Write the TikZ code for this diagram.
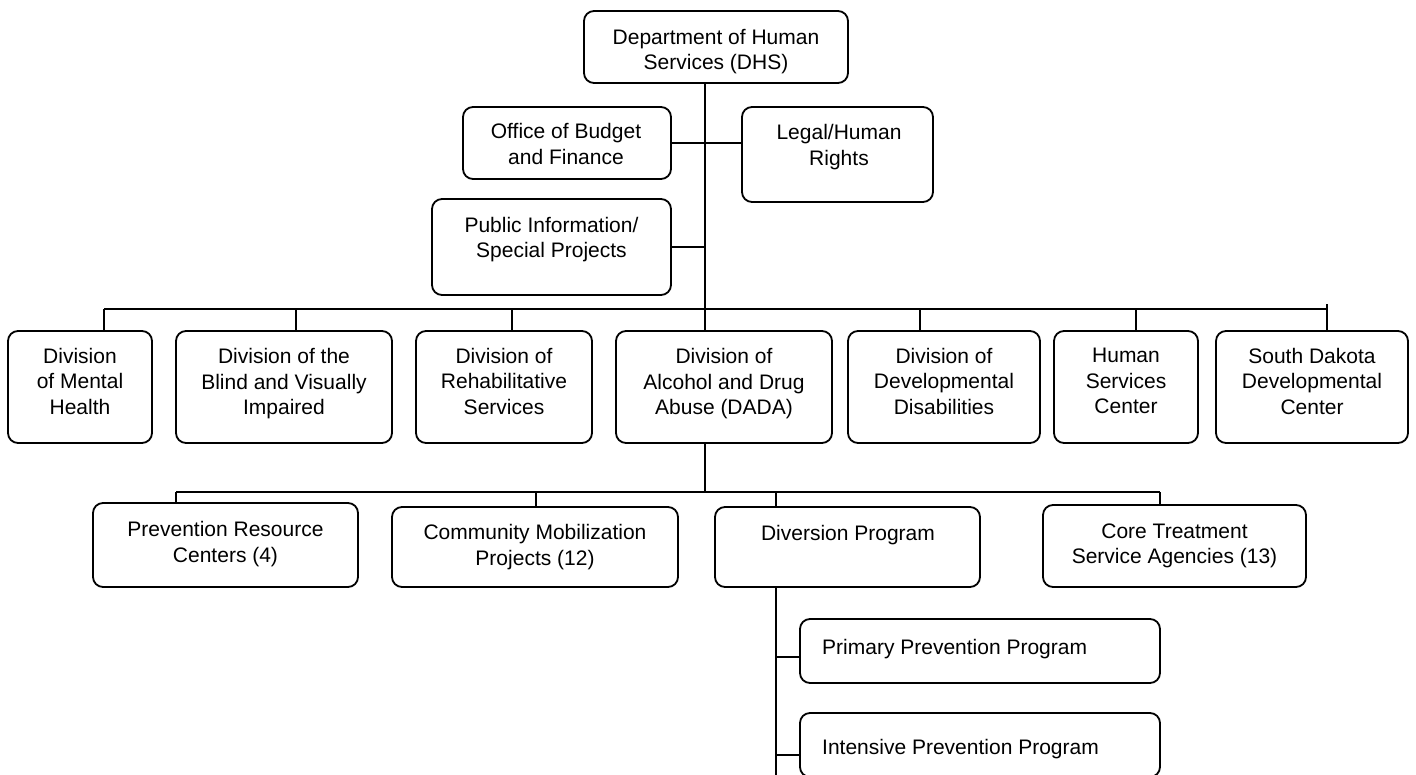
\documentclass[tikz,border=0pt]{standalone}
\usepackage{fontspec}
\setmainfont{Liberation Sans}
\begin{document}
\begin{tikzpicture}[x=1pt,y=-1pt,
  box/.style={draw, line width=1.8pt, rounded corners=10pt, inner sep=0pt},
  lbl/.style={align=center, inner sep=0pt, font=\fontsize{21}{25.5}\selectfont},
  conn/.style={line width=1.8pt}]
\clip (0,0) rectangle (1416,774);
% top
\node[box, minimum width=264pt, minimum height=72pt] (dhs) at (716,47) {};
\node[lbl] (dhst) at (716,51.5) {Department of Human\\Services (DHS)};
\node[box, minimum width=208pt, minimum height=72pt] (budget) at (567,143) {};
\node[lbl] (budgett) at (566,144) {Office of Budget\\and Finance};
\node[box, minimum width=191pt, minimum height=95pt] (legal) at (837.5,154.5) {};
\node[lbl] (legalt) at (839,147) {Legal/Human\\Rights};
\node[box, minimum width=239pt, minimum height=96pt] (public) at (551.5,247) {};
\node[lbl] (publict) at (551.5,239.5) {Public Information/\\Special Projects};
% divisions
\node[box, minimum width=144pt, minimum height=112pt] (mh) at (80,387) {};
\node[lbl] (mht) at (80,381) {Division\\of Mental\\Health};
\node[box, minimum width=216pt, minimum height=112pt] (blind) at (284,387) {};
\node[lbl] (blindt) at (284,384) {Division of the\\Blind and Visually\\Impaired};
\node[box, minimum width=176pt, minimum height=112pt] (rehab) at (504,387) {};
\node[lbl] (rehabt) at (504,381) {Division of\\Rehabilitative\\Services};
\node[box, minimum width=216pt, minimum height=112pt] (dada) at (724,387) {};
\node[lbl] (dadat) at (724,384) {Division of\\Alcohol and Drug\\Abuse (DADA)};
\node[box, minimum width=192pt, minimum height=112pt] (devdis) at (944,387) {};
\node[lbl] (devdist) at (944,381) {Division of\\Developmental\\Disabilities};
\node[box, minimum width=144pt, minimum height=112pt] (hsc) at (1126,387) {};
\node[lbl] (hsct) at (1126,381) {Human\\Services\\Center};
\node[box, minimum width=192pt, minimum height=112pt] (sd) at (1312,387) {};
\node[lbl] (sdt) at (1312,381) {South Dakota\\Developmental\\Center};
% DADA programs
\node[box, minimum width=265pt, minimum height=84pt] (prev) at (225.5,545) {};
\node[lbl] (prevt) at (225.5,544) {Prevention Resource\\Centers (4)};
\node[box, minimum width=286pt, minimum height=80pt] (comm) at (535,547) {};
\node[lbl] (commt) at (535,547) {Community Mobilization\\Projects (12)};
\node[box, minimum width=265pt, minimum height=80pt] (div) at (847.5,547) {};
\node[lbl] (divt) at (848,535) {Diversion Program};
\node[box, minimum width=263pt, minimum height=82pt] (core) at (1174.5,546) {};
\node[lbl] (coret) at (1174.5,546) {Core Treatment\\Service Agencies (13)};
\node[box, minimum width=360pt, minimum height=64pt] (primary) at (980,651) {};
\node[lbl, anchor=west] (primaryt) at (822,649) {Primary Prevention Program};
\node[box, minimum width=360pt, minimum height=64pt] (intensive) at (980,745) {};
\node[lbl, anchor=west] (intensivet) at (822,749) {Intensive Prevention Program};
% coordinates
\coordinate (spine) at (705,309);
\coordinate (d1) at (104,309);
\coordinate (d2) at (296,309);
\coordinate (d3) at (512,309);
\coordinate (d5) at (920,309);
\coordinate (d6) at (1136,309);
\coordinate (d7) at (1327,309);
\coordinate (d7top) at (1327,304);
\coordinate (spine2) at (705,492);
\coordinate (p1) at (176,492);
\coordinate (p2) at (536,492);
\coordinate (p3) at (776,492);
\coordinate (p4) at (1160,492);
\coordinate (q1) at (776,657);
\coordinate (q2) at (776,755);
\coordinate (qend) at (776,780);
% connectors
\draw[conn] (dhs.south -| spine) -- (spine);
\draw[conn] (budget.east) -- (legal.west |- budget.east);
\draw[conn] (public.east) -- (public.east -| spine);
\draw[conn] (d1) -- (d7);
\draw[conn] (d1) -- (d1 |- mh.north);
\draw[conn] (d2) -- (d2 |- blind.north);
\draw[conn] (d3) -- (d3 |- rehab.north);
\draw[conn] (spine) -- (spine |- dada.north);
\draw[conn] (d5) -- (d5 |- devdis.north);
\draw[conn] (d6) -- (d6 |- hsc.north);
\draw[conn] (d7top) -- (d7top |- sd.north);
\draw[conn] (dada.south -| spine2) -- (spine2);
\draw[conn] (p1) -- (p4);
\draw[conn] (p1) -- (p1 |- prev.north);
\draw[conn] (p2) -- (p2 |- comm.north);
\draw[conn] (p3) -- (p3 |- div.north);
\draw[conn] (p4) -- (p4 |- core.north);
\draw[conn] (div.south -| qend) -- (qend);
\draw[conn] (q1) -- (q1 -| primary.west);
\draw[conn] (q2) -- (q2 -| intensive.west);
\end{tikzpicture}
\end{document}
